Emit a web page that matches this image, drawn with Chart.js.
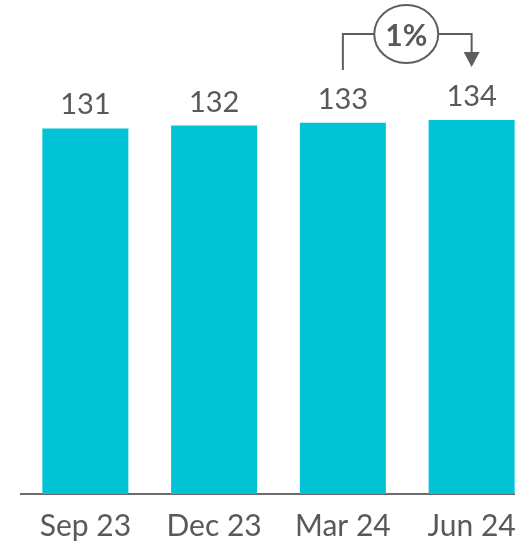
<!DOCTYPE html>
<html>
<head>
<meta charset="utf-8">
<script src="https://cdn.jsdelivr.net/npm/chart.js@4/dist/chart.umd.min.js"></script>
<style>
  html, body { margin: 0; padding: 0; background: #ffffff; overflow: hidden; }
  #wrap { width: 536px; height: 544px; }
</style>
</head>
<body>
<div id="wrap"><canvas id="c" width="536" height="544"></canvas></div>
<script>
const categories = ["Sep 23", "Dec 23", "Mar 24", "Jun 24"];
const values = [131, 132, 133, 134];
const changeLabel = "1%";
const changeFrom = 2; // index of "Mar 24"
const changeTo = 3;   // index of "Jun 24"

const TEXT = "#595959";
const FONT = "Lato, 'Open Sans', sans-serif";

const labelPlugin = {
  id: "labels",
  afterDatasetsDraw(chart) {
    const ctx = chart.ctx;
    const meta = chart.getDatasetMeta(0);
    ctx.save();
    ctx.fillStyle = TEXT;
    ctx.font = "29px " + FONT;
    ctx.textAlign = "center";
    ctx.textBaseline = "alphabetic";
    meta.data.forEach((bar, i) => {
      ctx.fillText(String(values[i]), bar.x, bar.y - 14);
    });

    // change annotation
    const a = meta.data[changeFrom], b = meta.data[changeTo];
    const lineY = 34;
    const cx = (a.x + b.x) / 2 - 1;
    const rx = 32, ry = 29;
    ctx.strokeStyle = "#5e5e5e";
    ctx.lineWidth = 2;
    ctx.beginPath();
    ctx.moveTo(a.x, 70);
    ctx.lineTo(a.x, lineY);
    ctx.lineTo(cx - rx, lineY);
    ctx.moveTo(cx + rx, lineY);
    ctx.lineTo(b.x, lineY);
    ctx.lineTo(b.x, 54);
    ctx.stroke();
    ctx.beginPath();
    ctx.ellipse(cx, lineY, rx, ry, 0, 0, Math.PI * 2);
    ctx.stroke();
    ctx.fillStyle = "#5e5e5e";
    ctx.beginPath();
    ctx.moveTo(b.x - 8, 52);
    ctx.lineTo(b.x + 8, 52);
    ctx.lineTo(b.x, 67);
    ctx.closePath();
    ctx.fill();
    ctx.fillStyle = TEXT;
    ctx.font = "bold 30px " + FONT;
    ctx.textBaseline = "alphabetic";
    ctx.fillText(changeLabel, cx, lineY + 12);
    ctx.restore();
  }
};

new Chart(document.getElementById("c"), {
  type: "bar",
  data: {
    labels: categories,
    datasets: [{
      data: values,
      backgroundColor: "#00C4D6",
      borderWidth: 0,
      barPercentage: 0.668,
      categoryPercentage: 1
    }]
  },
  options: {
    responsive: false,
    animation: false,
    layout: { padding: { left: 21, right: 0, top: 0, bottom: 0 } },
    plugins: { legend: { display: false }, tooltip: { enabled: false } },
    scales: {
      x: {
        grid: { display: false, drawTicks: false },
        border: { display: true, color: "#6b6b6b", width: 2 },
        ticks: { color: TEXT, font: { family: FONT, size: 30 }, padding: 14, maxRotation: 0 },
        afterFit: (s) => { s.height = 50; }
      },
      y: {
        display: false,
        min: 0,
        max: 177
      }
    }
  },
  plugins: [labelPlugin]
});
</script>
</body>
</html>
